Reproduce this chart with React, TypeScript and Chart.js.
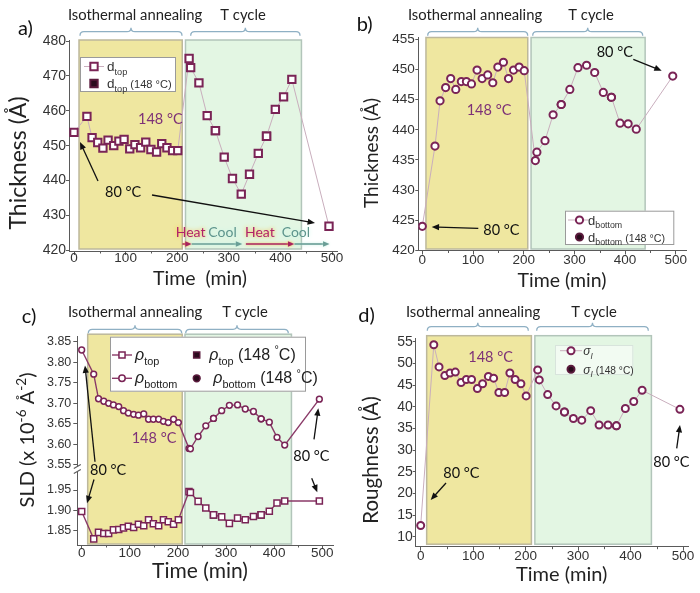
import React, { useEffect, useRef } from 'react';
import { Chart, registerables } from 'chart.js';

Chart.register(...registerables);

// ---------------- data ----------------
const times = [0, 25, 35, 46, 56, 66, 77, 87, 97, 108, 118, 129, 139, 149, 160, 170, 180, 191, 201,
  223, 226, 242, 258, 274, 291, 307, 324, 340, 357, 373, 390, 406, 422, 494];
const filledIdx = [23, 29];

const dTop = [453.8, 458.4, 452.3, 450.9, 449.3, 451.6, 450.0, 451.3, 451.8, 449.1, 450.3, 449.4, 451.0, 448.9, 448.2, 450.6, 449.4, 448.6, 448.6,
  475.0, 472.4, 468.0, 458.6, 454.3, 446.7, 440.6, 436.1, 441.8, 447.8, 452.7, 460.4, 464.0, 469.0, 426.9];
const dBottom = [424.0, 437.3, 444.8, 447.0, 448.5, 446.7, 448.0, 448.0, 447.6, 449.9, 448.5, 449.1, 447.8, 450.4, 451.2, 448.5, 449.9, 450.4, 449.8,
  434.9, 436.3, 438.2, 442.5, 444.2, 446.7, 450.3, 450.7, 449.5, 446.2, 445.4, 441.1, 441.0, 440.1, 448.9];
const rhoBottom = [3.830, 3.771, 3.711, 3.705, 3.700, 3.696, 3.692, 3.682, 3.676, 3.673, 3.671, 3.674, 3.661, 3.661, 3.661, 3.656, 3.653, 3.661, 3.653,
  3.590, 3.589, 3.619, 3.645, 3.663, 3.682, 3.695, 3.696, 3.686, 3.680, 3.662, 3.654, 3.617, 3.598, 3.710];
const rhoTop = [1.897, 1.830, 1.846, 1.843, 1.843, 1.852, 1.853, 1.857, 1.861, 1.858, 1.866, 1.862, 1.877, 1.867, 1.862, 1.877, 1.872, 1.866, 1.877,
  1.946, 1.944, 1.922, 1.906, 1.889, 1.884, 1.868, 1.881, 1.877, 1.885, 1.889, 1.898, 1.918, 1.923, 1.923];
const sigmaI = [12.6, 54.3, 49.2, 47.2, 47.8, 48.0, 45.6, 46.3, 46.3, 44.2, 45.3, 47.0, 46.6, 43.3, 43.3, 47.8, 46.3, 45.3, 42.5,
  48.5, 46.2, 42.8, 40.2, 38.8, 37.3, 36.9, 39.1, 35.8, 35.8, 35.6, 39.6, 41.2, 43.8, 39.4];

const xTickValues = [0, 100, 200, 300, 400, 500];
const xMinorValues = [50, 150, 250, 350, 450];
const yTicksA = [420, 430, 440, 450, 460, 470, 480];
const yTicksB = [420, 425, 430, 435, 440, 445, 450, 455];
const yTicksCUpper = [3.55, 3.60, 3.65, 3.70, 3.75, 3.80, 3.85];
const yTicksCLower = [1.85, 1.90, 1.95];
const yTicksD = [10, 15, 20, 25, 30, 35, 40, 45, 50, 55];

const annealRange = [[9.7, 209.7], [7.2, 208], [12.5, 209], [11.4, 211]];
const cycleRange = [[216, 440.6], [214.5, 439.5], [214.7, 436], [217.6, 439.7]];
const cycleArrows: [number, number, string][] = [[210, 228, 'heat'], [228, 326, 'cool'], [333, 427, 'heat'], [427, 495, 'cool']];

const phaseNames = ['Isothermal annealing', 'T cycle'];
const annealTemp = '148 °C';
const baseTemp = '80 °C';
const heatLabel = 'Heat';
const coolLabel = 'Cool';
const timeTitle = 'Time (min)';

// ---------------- style ----------------
const FONT_T = 'Lato, "Open Sans", sans-serif';
const FONT_N = '"Liberation Sans", Arial, sans-serif';
const AXIS = '#5a5a5a';
const TICK_C = '#333';
const MARK = '#7a2456';
const MARK_DARK = '#5a1a3c';
const FILL_DARK = '#2a0b1d';
const LINE_LIGHT = '#c9aebd';
const LINE_C = '#8a3a68';
const PURPLE = '#7d3177';
const YELLOW = '#efe7a0';
const YELLOW_EDGE = '#bdb89c';
const GREEN = '#e3f6e3';
const GREEN_EDGE = '#b2c5ba';
const BRACE = '#8fb0c4';
const NOTE = 14.5;

type Seg = { t: string; sub?: boolean; sup?: boolean; it?: boolean; scale?: number };

function fontFor(seg: Seg, size: number, family: string) {
  let s = size;
  if (seg.sub || seg.sup) s = size * 0.68;
  if (seg.scale) s = s * seg.scale;
  return `${seg.it ? 'italic ' : ''}${s}px ${family}`;
}

function drawRich(ctx: any, segs: Seg[], x: number, y: number, size: number, family: string, color: string, align = 'left') {
  ctx.save();
  ctx.fillStyle = color;
  ctx.textBaseline = 'alphabetic';
  ctx.textAlign = 'left';
  let total = 0;
  for (const s of segs) { ctx.font = fontFor(s, size, family); total += ctx.measureText(s.t).width; }
  let cx = align === 'center' ? x - total / 2 : align === 'right' ? x - total : x;
  for (const s of segs) {
    ctx.font = fontFor(s, size, family);
    const dy = s.sub ? size * 0.3 : s.sup ? -size * 0.42 : 0;
    ctx.fillText(s.t, cx, y + dy);
    cx += ctx.measureText(s.t).width;
  }
  ctx.restore();
  return total;
}

function drawVertical(ctx: any, segs: Seg[], cx: number, cy: number, size: number) {
  ctx.save();
  ctx.translate(cx, cy);
  ctx.rotate(-Math.PI / 2);
  drawRich(ctx, segs, 0, size * 0.36, size, FONT_T, '#222', 'center');
  ctx.restore();
}

function arrow(ctx: any, x1: number, y1: number, x2: number, y2: number, color = '#111', w = 1.3, head = 8) {
  const a = Math.atan2(y2 - y1, x2 - x1);
  ctx.save();
  ctx.strokeStyle = color;
  ctx.fillStyle = color;
  ctx.lineWidth = w;
  ctx.beginPath();
  ctx.moveTo(x1, y1);
  ctx.lineTo(x2 - Math.cos(a) * head * 0.8, y2 - Math.sin(a) * head * 0.8);
  ctx.stroke();
  ctx.beginPath();
  ctx.moveTo(x2, y2);
  ctx.lineTo(x2 - head * Math.cos(a - 0.4), y2 - head * Math.sin(a - 0.4));
  ctx.lineTo(x2 - head * Math.cos(a + 0.4), y2 - head * Math.sin(a + 0.4));
  ctx.closePath();
  ctx.fill();
  ctx.restore();
}

function brace(ctx: any, x1: number, x2: number, y: number) {
  const xm = (x1 + x2) / 2;
  ctx.save();
  ctx.strokeStyle = BRACE;
  ctx.lineWidth = 1.3;
  ctx.beginPath();
  ctx.moveTo(x1, y + 4);
  ctx.quadraticCurveTo(x1, y, x1 + 4, y);
  ctx.lineTo(xm - 4, y);
  ctx.quadraticCurveTo(xm, y, xm, y - 4);
  ctx.quadraticCurveTo(xm, y, xm + 4, y);
  ctx.lineTo(x2 - 4, y);
  ctx.quadraticCurveTo(x2, y, x2, y + 4);
  ctx.stroke();
  ctx.restore();
}

function marker(ctx: any, kind: string, x: number, y: number, r: number, filled: boolean, lw: number) {
  ctx.save();
  ctx.lineWidth = lw;
  ctx.strokeStyle = filled ? MARK_DARK : MARK;
  ctx.fillStyle = filled ? FILL_DARK : '#fff';
  ctx.beginPath();
  if (kind === 'rect') {
    const s = r * Math.SQRT1_2;
    ctx.rect(x - s, y - s, 2 * s, 2 * s);
  } else {
    ctx.arc(x, y, r, 0, Math.PI * 2);
  }
  ctx.fill();
  ctx.stroke();
  ctx.restore();
}

function legendBox(ctx: any, x1: number, y1: number, x2: number, y2: number, fill = '#fff', edge = '#9a9a9a') {
  ctx.save();
  ctx.fillStyle = fill;
  ctx.fillRect(x1, y1, x2 - x1, y2 - y1);
  ctx.strokeStyle = edge;
  ctx.lineWidth = 1;
  ctx.strokeRect(x1 + 0.5, y1 + 0.5, x2 - x1 - 1, y2 - y1 - 1);
  ctx.restore();
}

function legendLine(ctx: any, x1: number, x2: number, y: number, color: string, w: number) {
  ctx.save();
  ctx.strokeStyle = color;
  ctx.lineWidth = w;
  ctx.beginPath();
  ctx.moveTo(x1, y);
  ctx.lineTo(x2, y);
  ctx.stroke();
  ctx.restore();
}

function shadeBox(ctx: any, x1: number, y1: number, x2: number, y2: number, fill: string, edge: string) {
  ctx.save();
  ctx.fillStyle = fill;
  ctx.fillRect(x1, y1, x2 - x1, y2 - y1);
  ctx.strokeStyle = edge;
  ctx.lineWidth = 1.5;
  ctx.strokeRect(x1, y1, x2 - x1, y2 - y1);
  ctx.restore();
}

// ---------------- scales ----------------
function xScale(min: number, max: number, height: number, size: number, pad: number) {
  return {
    type: 'linear', position: 'bottom', min, max,
    afterBuildTicks: (s: any) => { s.ticks = xTickValues.map((v) => ({ value: v })); },
    afterFit: (s: any) => { s.height = height; },
    grid: { drawOnChartArea: false, drawTicks: true, tickLength: 4, color: AXIS },
    border: { display: true, color: AXIS, width: 1 },
    ticks: { color: TICK_C, font: { family: FONT_N, size }, padding: pad, maxRotation: 0, autoSkip: false },
  };
}

function yScale(o: { min: number; max: number; ticks: number[]; width: number; size: number; tl: number; pad: number; dec?: number; stack?: string; weight?: number }) {
  const sc: any = {
    type: 'linear', position: 'left', min: o.min, max: o.max,
    afterBuildTicks: (s: any) => { s.ticks = o.ticks.map((v) => ({ value: v })); },
    afterFit: (s: any) => { s.width = o.width; },
    grid: { drawOnChartArea: false, drawTicks: true, tickLength: o.tl, color: AXIS },
    border: { display: true, color: AXIS, width: 1 },
    ticks: {
      color: TICK_C, font: { family: FONT_N, size: o.size }, padding: o.pad, autoSkip: false,
      callback: (v: any) => (o.dec ? Number(v).toFixed(o.dec) : String(v)),
    },
  };
  if (o.stack) { sc.stack = o.stack; sc.stackWeight = o.weight; }
  return sc;
}

function mainSet(values: number[], style: string, r: number, lw: number, lineColor: string, lineW: number, yAxisID = 'y') {
  return {
    data: times.map((t, i) => ({ x: t, y: values[i] })),
    yAxisID,
    showLine: true,
    borderColor: lineColor,
    borderWidth: lineW,
    tension: 0,
    pointStyle: style,
    pointRadius: r,
    pointBorderColor: MARK,
    pointBackgroundColor: '#fff',
    pointBorderWidth: lw,
  };
}

function filledSet(values: number[], style: string, r: number, lw: number, yAxisID = 'y') {
  return {
    data: filledIdx.map((i) => ({ x: times[i], y: values[i] })),
    yAxisID,
    showLine: false,
    pointStyle: style,
    pointRadius: r,
    pointBorderColor: MARK_DARK,
    pointBackgroundColor: FILL_DARK,
    pointBorderWidth: lw,
  };
}

// ---------------- panel specs ----------------
type Spec = {
  key: string; left: number; top: number; width: number; height: number;
  padTop: number; padRight: number;
  boxTopExt: number; boxBotInset: number; panel: number;
  letter: [string, number, number];
  titles: [number, number, number];
  braces: [number, number, number][];
  yTitle: [Seg[], number, number, number];
  xTitle: [string, number, number, number];
  datasets: any[];
  scales: any;
  extra: (ctx: any, chart: any) => void;
};

function decoPlugin(spec: Spec) {
  return {
    id: 'deco' + spec.key,
    beforeDatasetsDraw(chart: any) {
      const ctx = chart.ctx;
      const ca = chart.chartArea;
      const x = chart.scales.x;
      const top = ca.top - spec.boxTopExt;
      const bot = ca.bottom - spec.boxBotInset;
      const ar = annealRange[spec.panel];
      const cr = cycleRange[spec.panel];
      shadeBox(ctx, x.getPixelForValue(ar[0]), top, x.getPixelForValue(ar[1]), bot, YELLOW, YELLOW_EDGE);
      shadeBox(ctx, x.getPixelForValue(cr[0]), top, x.getPixelForValue(cr[1]), bot, GREEN, GREEN_EDGE);
    },
    afterDraw(chart: any) {
      const ctx = chart.ctx;
      const ca = chart.chartArea;
      const x = chart.scales.x;
      ctx.save();
      ctx.strokeStyle = AXIS;
      ctx.lineWidth = 1;
      for (const v of xMinorValues) {
        const px = Math.round(x.getPixelForValue(v)) + 0.5;
        ctx.beginPath();
        ctx.moveTo(px, ca.bottom);
        ctx.lineTo(px, ca.bottom + 2.5);
        ctx.stroke();
      }
      ctx.restore();
      const [lt, lx, ly] = spec.letter;
      drawRich(ctx, [{ t: lt }], lx, ly, 20, FONT_T, '#111');
      const [ix, tx, ty] = spec.titles;
      drawRich(ctx, [{ t: phaseNames[0] }], ix, ty, 14.8, FONT_T, '#222', 'center');
      drawRich(ctx, [{ t: phaseNames[1] }], tx, ty, 14.8, FONT_T, '#222', 'center');
      for (const b of spec.braces) brace(ctx, b[0], b[1], b[2]);
      const [ys, yx, yy, ysz] = spec.yTitle;
      drawVertical(ctx, ys, yx, yy, ysz);
      const [xt, xx, xy, xsz] = spec.xTitle;
      drawRich(ctx, [{ t: xt }], xx, xy + xsz * 0.36, xsz, FONT_T, '#222', 'center');
      spec.extra(ctx, chart);
    },
  };
}

const specA: Spec = {
  key: 'a', left: 0, top: 0, width: 350, height: 296, padTop: 40, padRight: 13,
  boxTopExt: 0, boxBotInset: 2, panel: 0,
  letter: ['a)', 18, 35],
  titles: [135, 243, 20],
  braces: [[80, 182, 31.7], [190.7, 300, 31.7]],
  yTitle: [[{ t: 'Thickness (Å)' }], 18, 163, 23],
  xTitle: ['Time  (min)', 200, 278, 19.5],
  datasets: [mainSet(dTop, 'rect', 5.2, 2, LINE_LIGHT, 1), filledSet(dTop, 'rect', 5.2, 2)],
  scales: {
    x: xScale(-9.7, 509.5, 45, 13.5, -5),
    y: yScale({ min: 419.8, max: 480.3, ticks: yTicksA, width: 69, size: 14, tl: 3, pad: 0 }),
  },
  extra: (ctx, chart) => {
    drawRich(ctx, [{ t: annealTemp }], 138, 124, NOTE, FONT_T, PURPLE);
    drawRich(ctx, [{ t: baseTemp }], 105, 196.5, NOTE, FONT_T, '#111');
    arrow(ctx, 98, 181, 80, 142);
    arrow(ctx, 152, 195, 315, 223);
    const xs = chart.scales.x;
    const yA = 244;
    for (const [t1, t2, kind] of cycleArrows) {
      ctx.save();
      ctx.shadowColor = kind === 'heat' ? 'rgba(255,190,60,0.95)' : 'rgba(190,240,225,0.9)';
      ctx.shadowBlur = 3;
      arrow(ctx, xs.getPixelForValue(t1), yA, xs.getPixelForValue(t2), yA, kind === 'heat' ? '#a8235f' : '#6a9e96', 1.6, 7);
      ctx.restore();
    }
    const labels: [string, number, string][] = [[heatLabel, 175.7, 'heat'], [coolLabel, 208.3, 'cool'], [heatLabel, 245, 'heat'], [coolLabel, 281.7, 'cool']];
    for (const [t, lx, kind] of labels) {
      ctx.save();
      ctx.shadowColor = kind === 'heat' ? 'rgba(255,185,50,1)' : 'rgba(200,245,230,1)';
      ctx.shadowBlur = 4;
      drawRich(ctx, [{ t }], lx, 237, 14, FONT_T, kind === 'heat' ? '#b0226a' : '#5e948c');
      ctx.restore();
    }
    legendBox(ctx, 80, 57, 176, 92);
    legendLine(ctx, 84, 104, 66.5, LINE_LIGHT, 1);
    marker(ctx, 'rect', 94, 66.5, 5.2, false, 2);
    drawRich(ctx, [{ t: 'd' }, { t: 'top', sub: true }], 107, 71, 13.5, FONT_N, '#333');
    marker(ctx, 'rect', 94, 83.5, 5.2, true, 2);
    drawRich(ctx, [{ t: 'd' }, { t: 'top', sub: true }, { t: ' (148 °C)', scale: 0.82 }], 107, 88, 13.5, FONT_N, '#333');
  },
};

const specB: Spec = {
  key: 'b', left: 350, top: 0, width: 350, height: 296, padTop: 37.5, padRight: 13.3,
  boxTopExt: 0, boxBotInset: 1.5, panel: 1,
  letter: ['b)', 6.7, 31],
  titles: [125, 241, 20],
  braces: [[77.7, 177.7, 31.7], [182.7, 292.7, 31.7]],
  yTitle: [[{ t: 'Thickness (Å)' }], 21.3, 153, 19],
  xTitle: [timeTitle, 212, 280, 19.5],
  datasets: [mainSet(dBottom, 'circle', 3.6, 2, LINE_LIGHT, 1), filledSet(dBottom, 'circle', 3.6, 2)],
  scales: {
    x: xScale(-7.9, 521.5, 45.5, 13.5, -2.6),
    y: yScale({ min: 420, max: 455.3, ticks: yTicksB, width: 68.3, size: 13.5, tl: 3, pad: 0.5 }),
  },
  extra: (ctx) => {
    drawRich(ctx, [{ t: annealTemp }], 116.7, 115, NOTE, FONT_T, PURPLE);
    drawRich(ctx, [{ t: baseTemp }], 133.3, 235, NOTE, FONT_T, '#111');
    arrow(ctx, 128.3, 228.3, 81.7, 227);
    drawRich(ctx, [{ t: baseTemp }], 246.7, 56.7, NOTE, FONT_T, '#111');
    arrow(ctx, 283.3, 59.3, 311.7, 70.7);
    legendBox(ctx, 215, 210.7, 324.3, 245);
    legendLine(ctx, 218, 240, 220, LINE_LIGHT, 1);
    marker(ctx, 'circle', 229.5, 220, 3.6, false, 2);
    drawRich(ctx, [{ t: 'd' }, { t: 'bottom', sub: true }], 238, 224.5, 13, FONT_N, '#333');
    marker(ctx, 'circle', 229.5, 237, 3.6, true, 2);
    drawRich(ctx, [{ t: 'd' }, { t: 'bottom', sub: true }, { t: ' (148 °C)', scale: 0.82 }], 238, 241.5, 13, FONT_N, '#333');
  },
};

const specC: Spec = {
  key: 'c', left: 0, top: 296, width: 350, height: 297, padTop: 40.7, padRight: 16.7,
  boxTopExt: 2.5, boxBotInset: 1, panel: 2,
  letter: ['c)', 21.7, 27],
  titles: [135, 245, 20.7],
  braces: [[88.3, 181.7, 33.3], [185.7, 288.3, 33.3]],
  yTitle: [[{ t: 'SLD (x 10' }, { t: '-6', sup: true }, { t: ' Å' }, { t: '-2', sup: true }, { t: ')' }], 27, 144, 20],
  xTitle: [timeTitle, 200, 274, 21],
  datasets: [
    mainSet(rhoBottom, 'circle', 2.9, 1.5, LINE_C, 1.4, 'yU'), filledSet(rhoBottom, 'circle', 2.9, 1.5, 'yU'),
    mainSet(rhoTop, 'rect', 4.3, 1.5, LINE_C, 1.4, 'yL'), filledSet(rhoTop, 'rect', 4.3, 1.5, 'yL'),
  ],
  scales: {
    x: xScale(-9.1, 523, 48, 13.5, -3.8),
    yL: yScale({ min: 1.8149, max: 2.0016, ticks: yTicksCLower, width: 77.3, size: 12.5, tl: 4, pad: 2, dec: 2, stack: 'c', weight: 76 }),
    yU: yScale({ min: 3.5397, max: 3.8624, ticks: yTicksCUpper, width: 77.3, size: 12.5, tl: 4, pad: 2, dec: 2, stack: 'c', weight: 132.3 }),
  },
  extra: (ctx, chart) => {
    const ca = chart.chartArea;
    const yb = Math.max(chart.scales.yL.top, chart.scales.yU.top);
    ctx.save();
    ctx.fillStyle = '#fff';
    ctx.fillRect(ca.left - 3, yb - 2.5, 6, 5);
    ctx.strokeStyle = AXIS;
    ctx.lineWidth = 1.1;
    ctx.beginPath();
    ctx.moveTo(ca.left - 3.5, yb - 0.5); ctx.lineTo(ca.left + 3.5, yb - 4.5);
    ctx.moveTo(ca.left - 3.5, yb + 4.5); ctx.lineTo(ca.left + 3.5, yb + 0.5);
    ctx.stroke();
    ctx.restore();
    drawRich(ctx, [{ t: annealTemp }], 131.7, 147.3, NOTE, FONT_T, PURPLE);
    drawRich(ctx, [{ t: baseTemp }], 90, 179, NOTE, FONT_T, '#111');
    arrow(ctx, 95, 165.7, 85, 69.5);
    arrow(ctx, 94, 183.5, 87, 207.3);
    drawRich(ctx, [{ t: baseTemp }], 293.3, 165, NOTE, FONT_T, '#111');
    arrow(ctx, 314, 143.3, 318.3, 112.3);
    arrow(ctx, 311.7, 182.3, 317.3, 196.3);
    legendBox(ctx, 110, 40.7, 306, 95.7);
    legendLine(ctx, 112, 132, 59, LINE_C, 1.4);
    marker(ctx, 'rect', 122, 59, 4.3, false, 1.5);
    drawRich(ctx, [{ t: 'ρ', it: true }, { t: 'top', sub: true }], 135, 64, 16, FONT_N, '#222');
    marker(ctx, 'rect', 196.7, 59, 4.3, true, 1.5);
    drawRich(ctx, [{ t: 'ρ', it: true }, { t: 'top', sub: true }, { t: ' (148 ' }, { t: '°', sup: true }, { t: 'C)' }], 209.3, 64, 16, FONT_N, '#222');
    legendLine(ctx, 112, 132, 82.3, LINE_C, 1.4);
    marker(ctx, 'circle', 122, 82.3, 3.2, false, 1.5);
    drawRich(ctx, [{ t: 'ρ', it: true }, { t: 'bottom', sub: true }], 135, 87.3, 16, FONT_N, '#222');
    marker(ctx, 'circle', 196.7, 82.3, 3.4, true, 1.5);
    drawRich(ctx, [{ t: 'ρ', it: true }, { t: 'bottom', sub: true }, { t: ' (148 ' }, { t: '°', sup: true }, { t: 'C)' }], 213.3, 87.3, 16, FONT_N, '#222');
  },
};

const specD: Spec = {
  key: 'd', left: 350, top: 296, width: 350, height: 297, padTop: 42.3, padRight: 11.7,
  boxTopExt: 2.6, boxBotInset: 2.5, panel: 3,
  letter: ['d)', 8.3, 26],
  titles: [123, 244, 20.7],
  braces: [[77.3, 178.3, 30.7], [186.7, 298.3, 30.7]],
  yTitle: [[{ t: 'Roughness (Å)' }], 21, 164, 20.5],
  xTitle: [timeTitle, 211.7, 278, 20],
  datasets: [mainSet(sigmaI, 'circle', 3.5, 2, LINE_LIGHT, 1), filledSet(sigmaI, 'circle', 3.5, 2)],
  scales: {
    x: xScale(-9.5, 510, 46.3, 13.5, -2.1),
    y: yScale({ min: 7.7, max: 55.8, ticks: yTicksD, width: 65.7, size: 14, tl: 3, pad: 0 }),
  },
  extra: (ctx) => {
    drawRich(ctx, [{ t: annealTemp }], 118.3, 66, NOTE, FONT_T, PURPLE);
    drawRich(ctx, [{ t: baseTemp }], 93.3, 181.7, NOTE, FONT_T, '#111');
    arrow(ctx, 96, 187, 80.7, 204);
    drawRich(ctx, [{ t: baseTemp }], 303.3, 170.7, NOTE, FONT_T, '#111');
    arrow(ctx, 326.7, 152.3, 330, 129);
    legendBox(ctx, 205, 49, 283.3, 79, 'rgba(255,255,255,0.55)', '#d8e4dc');
    legendLine(ctx, 210, 232, 54.7, LINE_LIGHT, 1);
    marker(ctx, 'circle', 221, 54.7, 3.5, false, 2);
    drawRich(ctx, [{ t: 'σ', it: true }, { t: 'I', sub: true, it: true }], 233.3, 59, 12, FONT_N, '#333');
    marker(ctx, 'circle', 221, 73.3, 3.5, true, 2);
    drawRich(ctx, [{ t: 'σ', it: true }, { t: 'I', sub: true, it: true }, { t: ' (148 °C)', scale: 0.85 }], 233.3, 77.5, 12, FONT_N, '#333');
  },
};

const specs = [specA, specB, specC, specD];

function Panel({ spec }: { spec: Spec }) {
  const ref = useRef<HTMLCanvasElement>(null);
  useEffect(() => {
    const chart = new Chart(ref.current as HTMLCanvasElement, {
      type: 'scatter',
      data: { datasets: spec.datasets },
      options: {
        responsive: false,
        maintainAspectRatio: false,
        animation: false,
        events: [],
        layout: { padding: { left: 0, top: spec.padTop, right: spec.padRight, bottom: 0 } },
        plugins: { legend: { display: false }, tooltip: { enabled: false }, title: { display: false } },
        scales: spec.scales,
      },
      plugins: [decoPlugin(spec)],
    } as any);
    return () => chart.destroy();
  }, [spec]);
  return (
    <canvas
      ref={ref}
      width={spec.width}
      height={spec.height}
      style={{ position: 'absolute', left: spec.left, top: spec.top, width: spec.width, height: spec.height }}
    />
  );
}

export default function App() {
  return (
    <div style={{ position: 'absolute', left: 0, top: 0, width: 700, height: 593, background: '#fff', overflow: 'hidden' }}>
      {specs.map((s) => <Panel key={s.key} spec={s} />)}
    </div>
  );
}
